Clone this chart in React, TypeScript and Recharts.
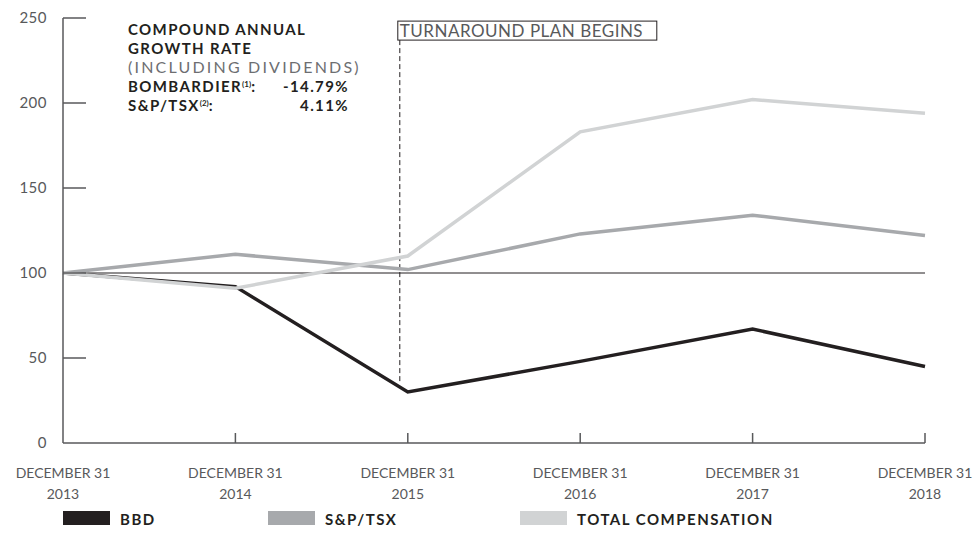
import React from 'react';
import { LineChart, Line, XAxis, YAxis, ReferenceLine, Customized } from 'recharts';

const years = ['2013', '2014', '2015', '2016', '2017', '2018'];
const tickTop = 'DECEMBER 31';
const bbd = [100, 92, 30, 48, 67, 45];
const spTsx = [100, 111, 102, 123, 134, 122];
const totalComp = [100, 91, 110, 183, 202, 194];
const yTicks = [0, 50, 100, 150, 200, 250];
const seriesNames = ['BBD', 'S&P/TSX', 'TOTAL COMPENSATION'];
const seriesColors = ['#231f20', '#a7a9ac', '#d1d3d4'];
const cagrLines = [
  { label: 'BOMBARDIER', note: '(1)', value: '-14.79%' },
  { label: 'S&P/TSX', note: '(2)', value: '4.11%' },
];
const turnaroundYear = '2015';
const turnaroundRange = [36, 237];

const data = years.map((y, i) => ({ year: y, bbd: bbd[i], sp: spTsx[i], tc: totalComp[i] }));

const FONT = 'Lato, "Open Sans", sans-serif';
const AXIS = '#58595b';

const YTick = (props: any) => {
  const { x, y, payload } = props;
  return (
    <g>
      {payload.value !== 0 && <line x1={x} x2={x + 23} y1={y} y2={y} stroke={AXIS} strokeWidth={1.5} />}
      <text x={x - 16} y={y} dy={5} textAnchor="end" fill={AXIS} fontSize={15} fontFamily={FONT} letterSpacing={0.5}>{payload.value}</text>
    </g>
  );
};

const XTick = (props: any) => {
  const { x, y, payload, index } = props;
  return (
    <g>
      {index !== 0 && <line x1={x} x2={x} y1={y} y2={y - 10} stroke={AXIS} strokeWidth={1.5} />}
      <text x={x} y={y + 35} textAnchor="middle" fill={AXIS} fontSize={14} fontFamily={FONT}>{tickTop}</text>
      <text x={x} y={y + 56} textAnchor="middle" fill={AXIS} fontSize={14} fontFamily={FONT}>{payload.value}</text>
    </g>
  );
};

const Annotation = () => (
  <g fontFamily={FONT} fontSize={15} letterSpacing={1.4}>
    <text x={128} y={35} fill="#231f20" fontWeight={700}>COMPOUND ANNUAL</text>
    <text x={128} y={54} fill="#231f20" fontWeight={700}>GROWTH RATE</text>
    <text x={128} y={73} fill="#6d6e71" fontSize={16} letterSpacing={2.2}>(INCLUDING DIVIDENDS)</text>
    {cagrLines.map((c, i) => (
      <g key={c.label}>
        <text x={128} y={92 + i * 19} fill="#231f20" fontWeight={700}>
          {c.label}
          <tspan fontSize={8} dy={-5} letterSpacing={0}>{c.note}</tspan>
          <tspan dy={5}>:</tspan>
        </text>
        <text x={349} y={92 + i * 19} fill="#231f20" fontWeight={700} textAnchor="end">{c.value}</text>
      </g>
    ))}
  </g>
);

const TurnLine = (props: any) => {
  const { x1, y1, y2 } = props;
  const x = x1 - 8;
  const top = Math.min(y1, y2);
  const bottom = Math.max(y1, y2);
  return (
    <g>
      <line x1={x} x2={x} y1={top} y2={bottom} stroke="#231f20" strokeWidth={1} strokeDasharray="5 3" />
      <rect x={x - 2} y={top - 19} width={259} height={19} fill="none" stroke="#231f20" strokeWidth={1} />
      <text x={x} y={top - 3} fill="#58595b" fontSize={17} fontFamily={FONT} letterSpacing={0.5}>TURNAROUND PLAN BEGINS</text>
    </g>
  );
};

const LegendContent = () => {
  const xs = [63, 268, 520];
  return (
    <g>
      {seriesNames.map((n, i) => (
        <g key={n}>
          <rect x={xs[i]} y={511} width={47} height={14} fill={seriesColors[i]} />
          <text x={xs[i] + 57} y={525} fill="#231f20" fontSize={15} fontWeight={700} fontFamily={FONT} letterSpacing={1.5}>{n}</text>
        </g>
      ))}
    </g>
  );
};

export default function App() {
  return (
    <div style={{ position: 'absolute', left: 0, top: 0, background: '#fff' }}>
      <LineChart width={979} height={538} data={data} margin={{ top: 18, right: 54, left: 0, bottom: 0 }}>
        <XAxis dataKey="year" height={95} padding={{ left: 0, right: 0 }} tickSize={0} tickMargin={0}
          tick={<XTick />} axisLine={{ stroke: AXIS, strokeWidth: 1.5 }} interval={0} />
        <YAxis width={63} domain={[0, 250]} ticks={yTicks} tickSize={0} tickMargin={0} tick={<YTick />}
          axisLine={{ stroke: AXIS, strokeWidth: 1.5 }} interval={0} />
        <ReferenceLine y={100} stroke="#231f20" strokeWidth={1} />
        <ReferenceLine segment={[{ x: turnaroundYear, y: turnaroundRange[0] }, { x: turnaroundYear, y: turnaroundRange[1] }]} shape={<TurnLine />} ifOverflow="visible" />
        <Line dataKey="bbd" name={seriesNames[0]} stroke={seriesColors[0]} strokeWidth={3.5} dot={false} isAnimationActive={false} strokeLinejoin="miter" />
        <Line dataKey="sp" name={seriesNames[1]} stroke={seriesColors[1]} strokeWidth={3.5} dot={false} isAnimationActive={false} strokeLinejoin="miter" />
        <Line dataKey="tc" name={seriesNames[2]} stroke={seriesColors[2]} strokeWidth={3.5} dot={false} isAnimationActive={false} strokeLinejoin="miter" />
        <Customized component={<Annotation />} />
        <Customized component={<LegendContent />} />
      </LineChart>
    </div>
  );
}
